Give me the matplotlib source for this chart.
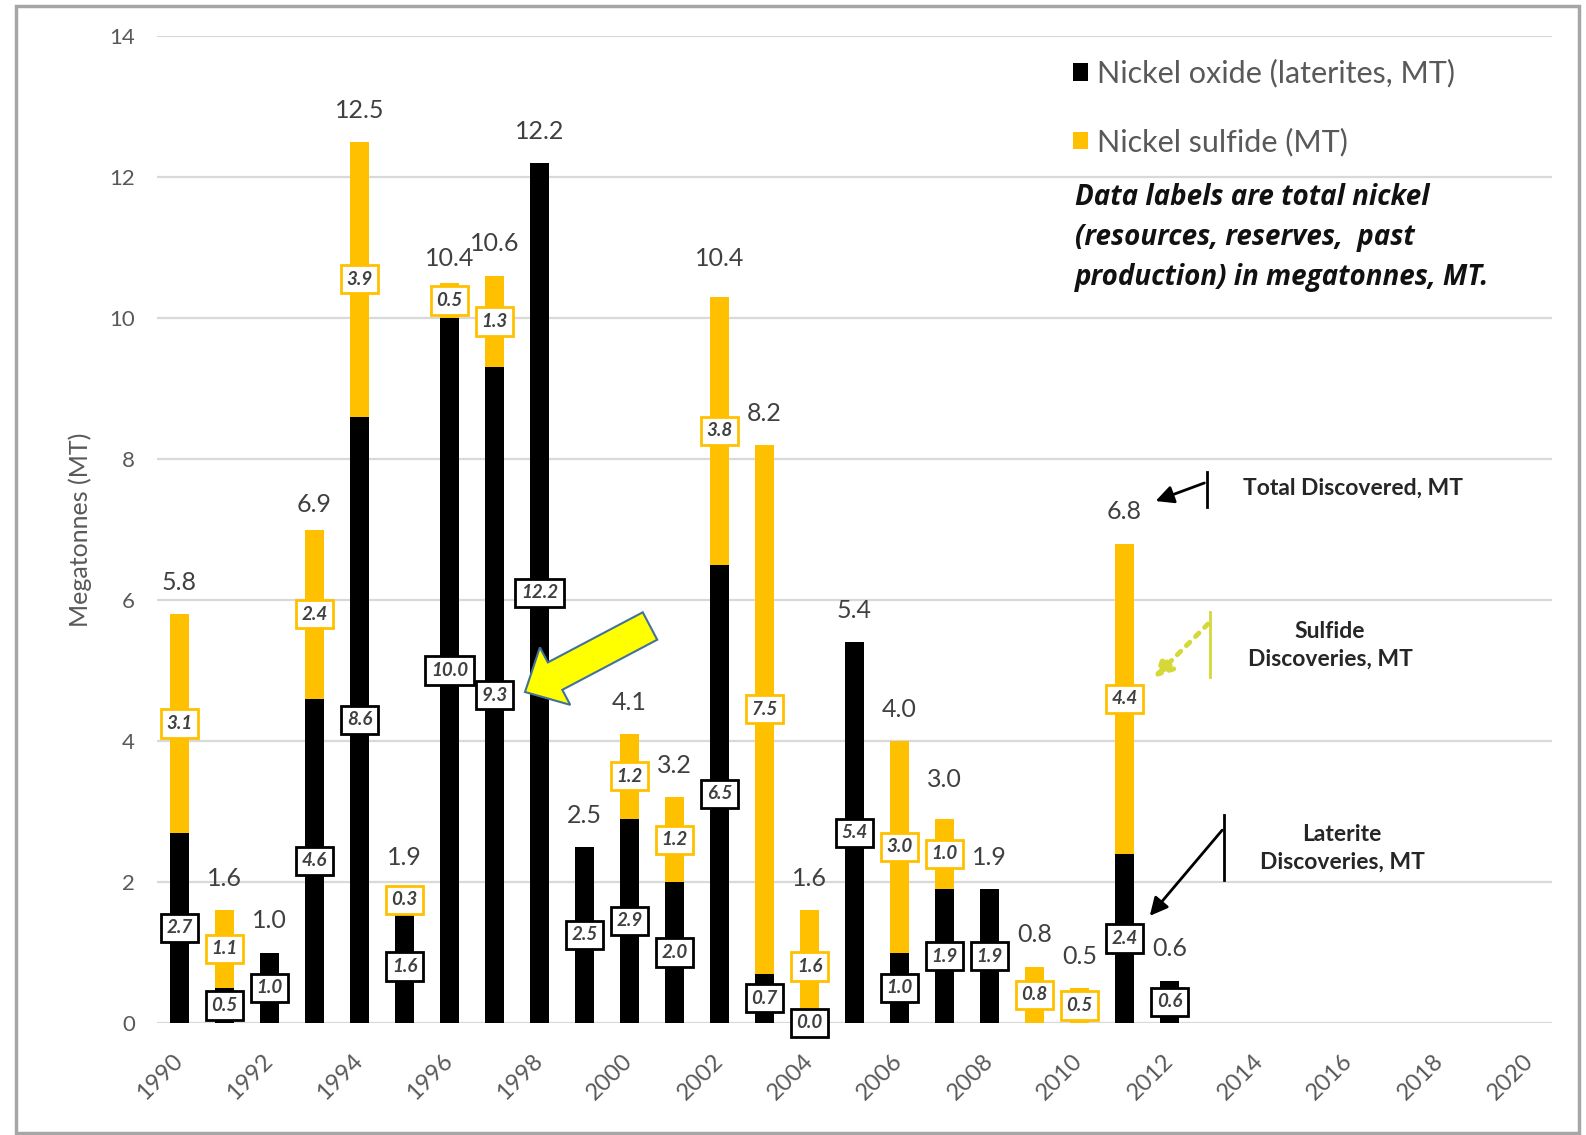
import numpy as np
import matplotlib.pyplot as plt
import matplotlib.patches as mpatches
import matplotlib.transforms as mtransforms

plt.rcParams['font.family'] = ['Lato', 'DejaVu Sans']

# data (megatonnes of nickel)
years = list(range(1990, 2013))
oxide = [2.7, 0.5, 1.0, 4.6, 8.6, 1.6, 10.0, 9.3, 12.2, 2.5, 2.9, 2.0,
         6.5, 0.7, 0.0, 5.4, 1.0, 1.9, 1.9, np.nan, np.nan, 2.4, 0.6]
sulfide = [3.1, 1.1, np.nan, 2.4, 3.9, 0.3, 0.5, 1.3, np.nan, np.nan, 1.2, 1.2,
           3.8, 7.5, 1.6, np.nan, 3.0, 1.0, np.nan, 0.8, 0.5, 4.4, np.nan]
totals = [5.8, 1.6, 1.0, 6.9, 12.5, 1.9, 10.4, 10.6, 12.2, 2.5, 4.1, 3.2,
          10.4, 8.2, 1.6, 5.4, 4.0, 3.0, 1.9, 0.8, 0.5, 6.8, 0.6]
xticks = list(range(1990, 2021, 2))

BLACK = '#000000'
GOLD = '#FFC000'
GRAY = '#595959'

ox = np.nan_to_num(np.array(oxide))
su = np.nan_to_num(np.array(sulfide))

fig = plt.figure(figsize=(15.86, 11.35), dpi=100)
ax = fig.add_axes([157 / 1586, 1 - 1023 / 1135, 1395 / 1586, 987 / 1135])
pix = mtransforms.Affine2D().scale(1 / fig.dpi) + fig.dpi_scale_trans
H = 1135

# figure border
fig.patches.append(mpatches.Rectangle((16, 2), 1563, H - 8, transform=pix,
                                      fill=False, ec='#A6A6A6', lw=2.5))

ax.set_axisbelow(True)
ax.yaxis.grid(True, color='#D9D9D9', lw=1.6)
b1 = ax.bar(years, ox, width=0.43, color=BLACK, label='Nickel oxide (laterites, MT)')
b2 = ax.bar(years, su, width=0.43, bottom=ox, color=GOLD, label='Nickel sulfide (MT)')

box_kw = dict(ha='center', va='center', fontsize=13.5, style='italic',
              fontweight='bold', color='#404040')
for x, o, s, t in zip(years, oxide, sulfide, totals):
    if not np.isnan(o):
        ax.text(x, o / 2, f'{o:.1f}',
                bbox=dict(boxstyle='square,pad=0.3', fc='white', ec=BLACK, lw=2),
                **box_kw)
    if not np.isnan(s):
        base = 0 if np.isnan(o) else o
        ax.text(x, base + s / 2, f'{s:.1f}',
                bbox=dict(boxstyle='square,pad=0.3', fc='white', ec=GOLD, lw=2),
                **box_kw)
    ax.text(x, t + 0.45, f'{t:.1f}', ha='center', va='center',
            fontsize=18, color='#404040')

ax.set_xlim(1989.5, 2020.5)
ax.set_ylim(0, 14)
ax.set_xticks(xticks)
ax.set_xticklabels([str(v) for v in xticks], rotation=45, ha='right', va='center',
                   rotation_mode='anchor', fontsize=17, color=GRAY)
ax.set_yticks(range(0, 15, 2))
ax.tick_params(axis='y', labelsize=16, labelcolor=GRAY, length=0, pad=16)
ax.tick_params(axis='x', length=0, pad=25)
for sp in ax.spines.values():
    sp.set_visible(False)
ax.set_ylabel('Megatonnes (MT)', fontsize=18, color=GRAY, labelpad=12)

ax.legend(handles=[b1, b2], loc='upper left', bbox_to_anchor=(1073 / 1586, 1 - 59 / H),
          bbox_transform=fig.transFigure, frameon=False, fontsize=22,
          labelcolor=GRAY, labelspacing=1.3, handlelength=0.5, handleheight=0.5,
          handletextpad=0.3, borderpad=0, borderaxespad=0)

fig.text(1075 / 1586, 1 - 183 / H,
         'Data labels are total nickel\n(resources, reserves,  past\nproduction) in megatonnes, MT.',
         ha='left', va='top', fontsize=20, style='italic', fontweight='bold',
         color='#111111', linespacing=1.5, family=['Open Sans', 'DejaVu Sans'])

# side notes with bracket arrows (figure pixels)
def note(text, tx, ty, lx, ly0, ly1, sx, sy, ex, ey, color, ls='-', lw=2):
    fig.text(tx / 1586, 1 - ty / H, text, ha='center', va='center', fontsize=16.5,
             fontweight='bold', color='#262626', linespacing=1.4)
    fig.lines.append(plt.Line2D([lx, lx], [H - ly0, H - ly1], transform=pix,
                                color=color, lw=2))
    fig.patches.append(mpatches.FancyArrowPatch((sx, H - sy), (ex, H - ey), transform=pix,
                                                arrowstyle='-|>,head_length=0.6,head_width=0.3',
                                                mutation_scale=18, color=color, lw=lw,
                                                linestyle=ls))

note('Total Discovered, MT', 1353, 488, 1207, 472, 507, 1207, 482, 1153, 502, '#000000')
note('Sulfide\nDiscoveries, MT', 1330, 645, 1210, 612, 677, 1210, 622, 1152, 680,
     '#D6D83A', ls=':', lw=3.5)
note('Laterite\nDiscoveries, MT', 1342, 848, 1224, 815, 880, 1224, 828, 1148, 918, '#000000')

# big yellow pointer arrow
fig.patches.append(mpatches.FancyArrow(650, H - 626, -125, -66, width=31,
                                       head_width=65, head_length=34,
                                       length_includes_head=True, transform=pix,
                                       fc='#FFFF00', ec='#41719C', lw=1.5))

fig.savefig('out.png', dpi=100)
